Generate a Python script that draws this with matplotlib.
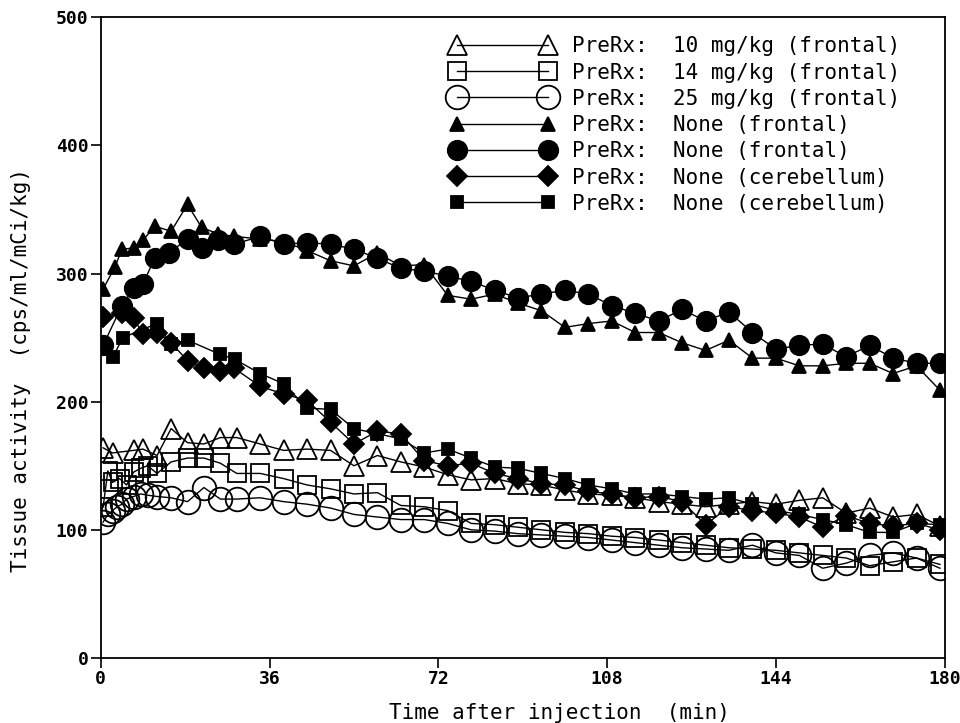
import numpy as np
import matplotlib
matplotlib.use("Agg")
import matplotlib.pyplot as plt

# ---- data ----
t_late = [34, 39, 44, 49, 54, 59, 64, 69, 74, 79, 84, 89, 94, 99, 104,
          109, 114, 119, 124, 129, 134, 139, 144, 149, 154, 159, 164, 169, 174, 179]

# open triangles: PreRx 10 mg/kg (frontal)
t_tri_open = [0.5, 2.5, 7, 9, 12, 15, 18.5, 22, 25.5, 29] + t_late
v_tri_open = [164, 160, 162, 163, 158, 179, 168, 167, 172, 172,
              167, 162, 163, 162, 150, 158, 153, 149, 143, 139,
              140, 136, 135, 131, 128, 127, 125, 122, 120, 118,
              120, 122, 120, 123, 125, 113, 117, 110, 112, 103]

# open squares: PreRx 14 mg/kg (frontal)
t_sq_open = [0.5, 1.5, 2.5, 4, 5.5, 7, 8.5, 10, 12, 15, 18.5, 22, 25.5, 29] + t_late
v_sq_open = [118, 146, 137, 140, 135, 145, 148, 150, 144, 153, 156, 156, 152, 144,
             144, 140, 135, 132, 128, 129, 119, 118, 115, 105, 104, 102, 100, 98,
             97, 95, 94, 92, 90, 88, 86, 85, 84, 82, 80, 78, 72, 75, 78, 73]

# open circles: PreRx 25 mg/kg (frontal)
t_ci_open = [0.5, 1.5, 2.5, 3.5, 4.5, 5.5, 7, 8.5, 10, 12, 15, 18.5, 22, 25.5, 29] + t_late
v_ci_open = [106, 112, 115, 118, 120, 124, 126, 128, 127, 126, 125, 122, 133, 124, 124,
             125, 122, 120, 117, 112, 110, 108, 108, 105, 100, 99, 97, 96, 95, 94,
             92, 90, 88, 86, 85, 84, 88, 82, 80, 70, 74, 80, 82, 78, 70]

# filled triangles: PreRx None (frontal)
t_tri_fill = [0.5, 3, 4.5, 7, 9, 11.5, 15, 18.5, 21.5, 25, 28.5] + t_late
v_tri_fill = [288, 305, 319, 320, 326, 337, 333, 354, 336, 331, 329,
              327, 325, 318, 310, 306, 316, 306, 307, 283, 280, 284, 277, 271, 258, 261,
              263, 254, 254, 246, 240, 248, 234, 234, 228, 228, 230, 230, 222, 228, 209]

# filled circles: PreRx None (frontal)
t_ci_fill = [0.5, 4.5, 7, 9, 11.5, 14.5, 18.5, 21.5, 25, 28.5] + t_late
v_ci_fill = [244, 275, 289, 292, 312, 316, 327, 320, 326, 323,
             329, 323, 324, 323, 319, 312, 304, 302, 298, 294, 287, 281, 284, 287, 284,
             275, 269, 263, 272, 263, 270, 254, 241, 244, 245, 235, 244, 234, 230, 230]

# filled diamonds: PreRx None (cerebellum)
t_di_fill = [0.5, 4.5, 7, 9, 12, 15, 18.5, 22, 25.5, 28.5] + t_late
v_di_fill = [266, 269, 265, 253, 254, 246, 232, 226, 224, 226,
             212, 206, 201, 184, 167, 177, 175, 154, 150, 152, 144, 140, 136, 135, 130,
             128, 125, 126, 122, 104, 118, 115, 113, 110, 102, 111, 105, 103, 105, 100]

# filled squares: PreRx None (cerebellum)
t_sq_fill = [2.6, 4.7, 12, 15, 18.5, 25.4, 28.6] + t_late
v_sq_fill = [235, 250, 261, 245, 248, 237, 233,
             222, 214, 195, 194, 179, 175, 171, 160, 163, 156, 149, 148, 144, 140, 135,
             132, 128, 128, 126, 124, 125, 120, 115, 112, 108, 104, 98, 98, 105, 104]

labels = ["PreRx:  10 mg/kg (frontal)",
          "PreRx:  14 mg/kg (frontal)",
          "PreRx:  25 mg/kg (frontal)",
          "PreRx:  None (frontal)",
          "PreRx:  None (frontal)",
          "PreRx:  None (cerebellum)",
          "PreRx:  None (cerebellum)"]

x_ticks = [0, 36, 72, 108, 144, 180]
y_ticks = [0, 100, 200, 300, 400, 500]

# ---- plot ----
plt.rcParams["font.family"] = ["DejaVu Sans Mono"]
plt.rcParams["font.size"] = 14

fig = plt.figure(figsize=(9.6, 7.23), dpi=100, facecolor="white")
ax = fig.add_axes([0.105, 0.09, 0.879, 0.886])

lw = 1.0
mew = 1.3
series = [
    (t_tri_open, v_tri_open, dict(marker="^", ms=14, mfc="none")),
    (t_sq_open, v_sq_open, dict(marker="s", ms=13, mfc="none")),
    (t_ci_open, v_ci_open, dict(marker="o", ms=17, mfc="none")),
    (t_tri_fill, v_tri_fill, dict(marker="^", ms=10, mfc="black")),
    (t_ci_fill, v_ci_fill, dict(marker="o", ms=14, mfc="black")),
    (t_di_fill, v_di_fill, dict(marker="D", ms=10, mfc="black")),
    (t_sq_fill, v_sq_fill, dict(marker="s", ms=9, mfc="black")),
]
for (t, v, st), lab in zip(series, labels):
    ax.plot(t, v, color="black", lw=lw, mec="black", mew=mew, label=lab, **st)

ax.set_xlim(0, 180)
ax.set_ylim(0, 500)
ax.set_xticks(x_ticks)
ax.set_yticks(y_ticks)
ax.tick_params(direction="out", length=7, width=1.2, labelsize=13, pad=2)
for lbl in ax.get_xticklabels() + ax.get_yticklabels():
    lbl.set_fontweight("bold")
for sp in ax.spines.values():
    sp.set_linewidth(1.3)

ax.set_xlabel("Time after injection  (min)", fontsize=15, labelpad=6)
ax.xaxis.set_label_coords(0.544, -0.07)
ax.set_ylabel("Tissue activity  (cps/ml/mCi/kg)", fontsize=15, labelpad=14)
ax.yaxis.set_label_coords(-0.083, 0.449)

ax.legend(loc="upper right", bbox_to_anchor=(0.962, 0.99), frameon=False,
          numpoints=2, handlelength=4.95, handletextpad=0.85,
          labelspacing=0.3, fontsize=15, borderaxespad=0.2)

fig.savefig("out.png", dpi=100, facecolor="white")
